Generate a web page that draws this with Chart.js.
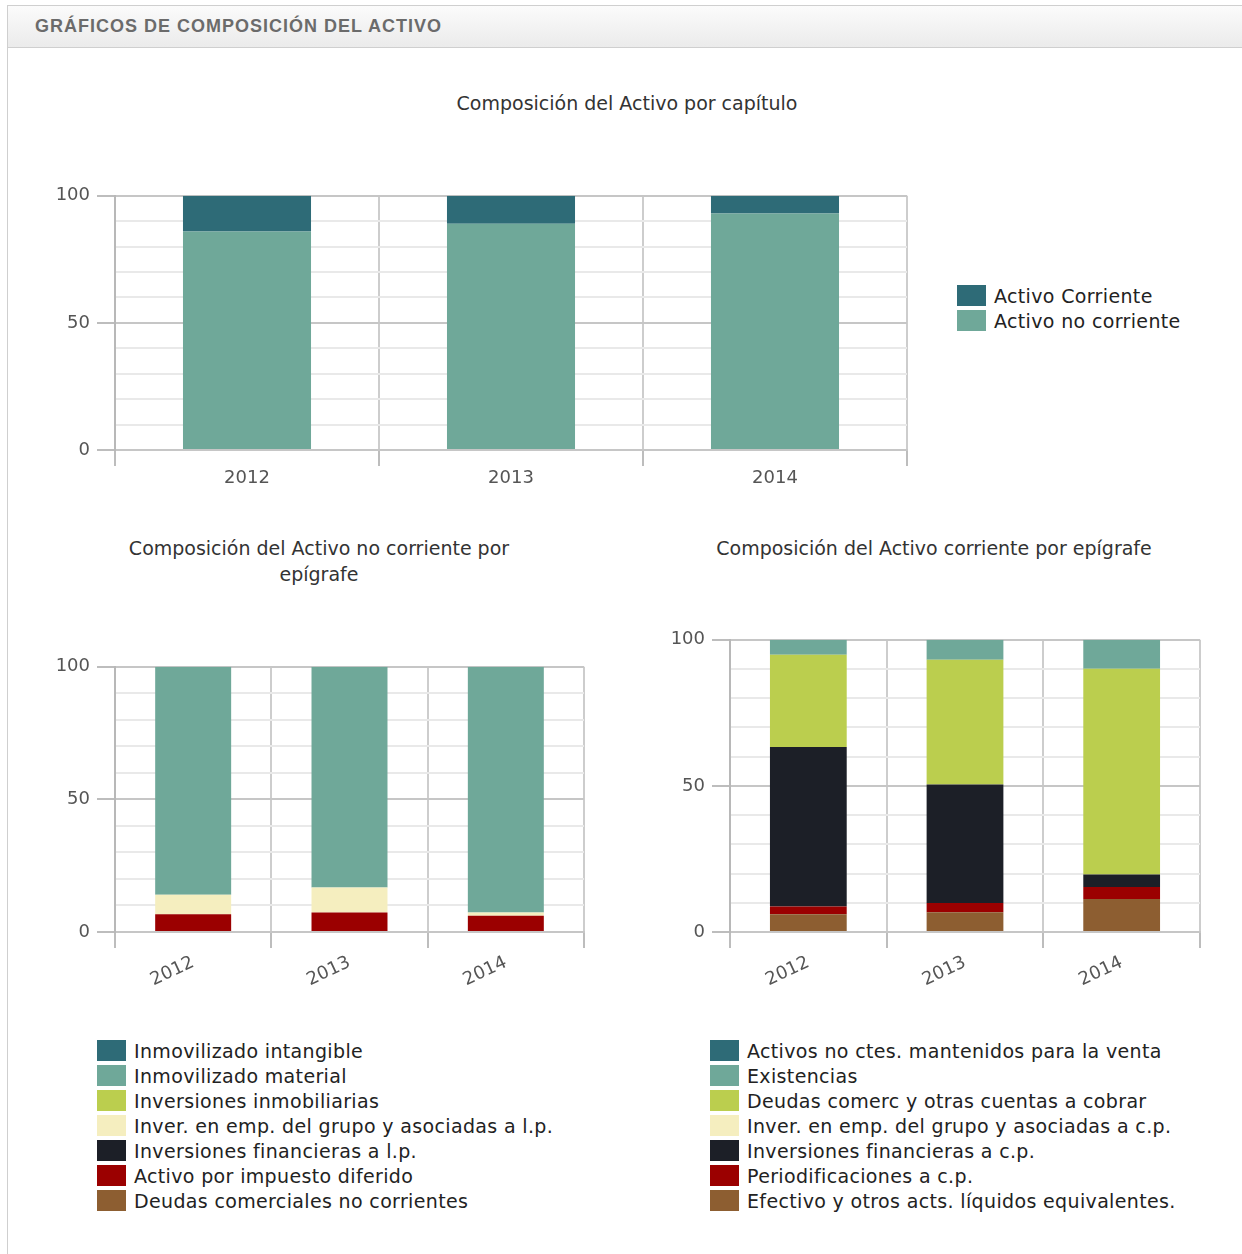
<!DOCTYPE html>
<html lang="es">
<head>
<meta charset="utf-8">
<title>Gráficos de composición del activo</title>
<script src="https://cdn.jsdelivr.net/npm/chart.js@4.4.1/dist/chart.umd.min.js"></script>
<style>
  html, body { margin: 0; padding: 0; background: #fff; }
  body { width: 1242px; height: 1254px; position: relative; overflow: hidden;
         font-family: "DejaVu Sans", Verdana, sans-serif; }
  .panel { position: absolute; left: 7px; top: 5px; width: 1260px; height: 1270px;
           border: 1px solid #cfcfcf; box-sizing: border-box; }
  .panel-head { height: 42px; box-sizing: border-box; padding-left: 27px;
                background: linear-gradient(#fbfbfb, #ebebeb); border-bottom: 1px solid #cfcfcf;
                font: bold 18px "Liberation Sans", Arial, sans-serif; letter-spacing: 1px;
                color: #6b6b6b; line-height: 40px; }
  .title { position: absolute; width: 600px; font-size: 19px; color: #333;
           line-height: 26px; text-align: center; white-space: nowrap; }
  .box { position: absolute; }
  canvas { display: block; }
  .legend { position: absolute; font-size: 19px; color: #222; letter-spacing: 0.35px; }
  .legend .row { height: 25px; display: flex; align-items: center; white-space: nowrap; }
  .legend .sw { width: 29px; height: 21px; margin-right: 8px; flex: none; }
</style>
</head>
<body>
<div class="panel">
  <div class="panel-head">GRÁFICOS DE COMPOSICIÓN DEL ACTIVO</div>
</div>

<div class="title" style="left:327px; top:90px;">Composición del Activo por capítulo</div>
<div class="box" style="left:30px; top:178px;"><canvas id="chartCapitulo" width="880" height="317"></canvas></div>
<div class="legend" id="legendCapitulo" style="left:957px; top:283px;"></div>

<div class="title" style="left:19px; top:535px;">Composición del Activo no corriente por<br>epígrafe</div>
<div class="box" style="left:30px; top:649px;"><canvas id="chartNoCorriente" width="560" height="347"></canvas></div>
<div class="legend" id="legendNoCorriente" style="left:97px; top:1038px;"></div>

<div class="title" style="left:634px; top:535px;">Composición del Activo corriente por epígrafe</div>
<div class="box" style="left:640px; top:622px;"><canvas id="chartCorriente" width="565" height="374"></canvas></div>
<div class="legend" id="legendCorriente" style="left:710px; top:1038px;"></div>

<script>
// Años y porcentajes (% sobre el total de cada bloque)
const years = ['2012', '2013', '2014'];

// Activo por capítulo
const activoCorriente = [14, 11, 7];
const activoNoCorriente = [86, 89, 93];

// Activo no corriente por epígrafe
const inmovIntangible = [0, 0, 0];
const inmovMaterial = [86.0, 83.2, 92.6];
const inversionesInmobiliarias = [0, 0, 0];
const inverGrupoLP = [7.3, 9.4, 1.3];
const invFinancierasLP = [0, 0, 0];
const impuestoDiferido = [6.7, 7.4, 6.1];
const deudasComercialesNC = [0, 0, 0];

// Activo corriente por epígrafe
const activosVenta = [0, 0, 0];
const existencias = [5.1, 6.8, 9.9];
const deudasComerc = [31.6, 42.7, 70.4];
const inverGrupoCP = [0, 0, 0];
const invFinancierasCP = [54.6, 40.6, 4.3];
const periodificaciones = [2.6, 3.1, 4.1];
const efectivo = [6.1, 6.8, 11.3];

const palette = ['#2e6b77', '#6fa899', '#bbce4e', '#f5eebf', '#1c1f27', '#9b0000', '#8d5e31'];
const FONT = '"DejaVu Sans", Verdana, sans-serif';

// series in legend order (top to bottom); stacks are drawn bottom-up from the last one
const seriesCapitulo = [
    { label: 'Activo Corriente', data: activoCorriente, color: palette[0] },
    { label: 'Activo no corriente', data: activoNoCorriente, color: palette[1] }
];
const seriesNoCorriente = [
    { label: 'Inmovilizado intangible', data: inmovIntangible, color: palette[0] },
    { label: 'Inmovilizado material', data: inmovMaterial, color: palette[1] },
    { label: 'Inversiones inmobiliarias', data: inversionesInmobiliarias, color: palette[2] },
    { label: 'Inver. en emp. del grupo y asociadas a l.p.', data: inverGrupoLP, color: palette[3] },
    { label: 'Inversiones financieras a l.p.', data: invFinancierasLP, color: palette[4] },
    { label: 'Activo por impuesto diferido', data: impuestoDiferido, color: palette[5] },
    { label: 'Deudas comerciales no corrientes', data: deudasComercialesNC, color: palette[6] }
];
const seriesCorriente = [
    { label: 'Activos no ctes. mantenidos para la venta', data: activosVenta, color: palette[0] },
    { label: 'Existencias', data: existencias, color: palette[1] },
    { label: 'Deudas comerc y otras cuentas a cobrar', data: deudasComerc, color: palette[2] },
    { label: 'Inver. en emp. del grupo y asociadas a c.p.', data: inverGrupoCP, color: palette[3] },
    { label: 'Inversiones financieras a c.p.', data: invFinancierasCP, color: palette[4] },
    { label: 'Periodificaciones a c.p.', data: periodificaciones, color: palette[5] },
    { label: 'Efectivo y otros acts. líquidos equivalentes.', data: efectivo, color: palette[6] }
];

function buildLegend(el, series) {
    series.forEach(function (s) {
        const row = document.createElement('div');
        row.className = 'row';
        const sw = document.createElement('span');
        sw.className = 'sw';
        sw.style.background = s.color;
        const txt = document.createElement('span');
        txt.textContent = s.label;
        row.appendChild(sw);
        row.appendChild(txt);
        el.appendChild(row);
    });
}

function stackedChart(canvas, series, opt) {
    const isMajor = v => v % 50 === 0;
    new Chart(canvas.getContext('2d'), {
        type: 'bar',
        data: {
            labels: years,
            datasets: series.slice().reverse().map(s => ({
                label: s.label,
                data: s.data,
                backgroundColor: s.color,
                borderWidth: 0,
                barPercentage: opt.barPct,
                categoryPercentage: 1
            }))
        },
        options: {
            responsive: false,
            animation: false,
            layout: { padding: { top: 12, right: opt.padRight, left: 0, bottom: 0 } },
            plugins: {
                legend: { display: false },
                title: { display: false },
                tooltip: { enabled: false }
            },
            scales: {
                x: {
                    stacked: true,
                    border: { color: '#c6c6c6', width: 2 },
                    grid: { offset: true, color: '#cdcdcd', tickColor: '#bdbdbd', tickLength: 16, lineWidth: 2 },
                    ticks: {
                        color: '#555',
                        font: { family: FONT, size: 18 },
                        padding: opt.xPad,
                        minRotation: opt.rotation,
                        maxRotation: opt.rotation
                    },
                    afterFit: function (scale) { scale.height = opt.xHeight; }
                },
                y: {
                    stacked: true,
                    min: 0,
                    max: 100,
                    border: { color: '#b8b8b8', width: 2 },
                    grid: {
                        color: ctx => isMajor(ctx.tick.value) ? '#c6c6c6' : '#e9e9e9',
                        tickColor: ctx => isMajor(ctx.tick.value) ? '#bdbdbd' : 'rgba(0,0,0,0)',
                        tickLength: 18,
                        lineWidth: 2
                    },
                    ticks: {
                        stepSize: 10,
                        autoSkip: false,
                        padding: 7,
                        color: '#555',
                        font: { family: FONT, size: 18 },
                        callback: v => isMajor(v) ? v : ''
                    },
                    afterFit: function (scale) { scale.width = opt.yWidth; }
                }
            }
        }
    });
}

stackedChart(document.getElementById('chartCapitulo'), seriesCapitulo,
    { barPct: 0.485, padRight: 3, yWidth: 85, xHeight: 45, xPad: 2, rotation: 0 });
stackedChart(document.getElementById('chartNoCorriente'), seriesNoCorriente,
    { barPct: 0.486, padRight: 6, yWidth: 85, xHeight: 64, xPad: 4, rotation: 25 });
stackedChart(document.getElementById('chartCorriente'), seriesCorriente,
    { barPct: 0.49, padRight: 5, yWidth: 90, xHeight: 64, xPad: 4, rotation: 25 });

buildLegend(document.getElementById('legendCapitulo'), seriesCapitulo);
buildLegend(document.getElementById('legendNoCorriente'), seriesNoCorriente);
buildLegend(document.getElementById('legendCorriente'), seriesCorriente);
</script>
</body>
</html>
